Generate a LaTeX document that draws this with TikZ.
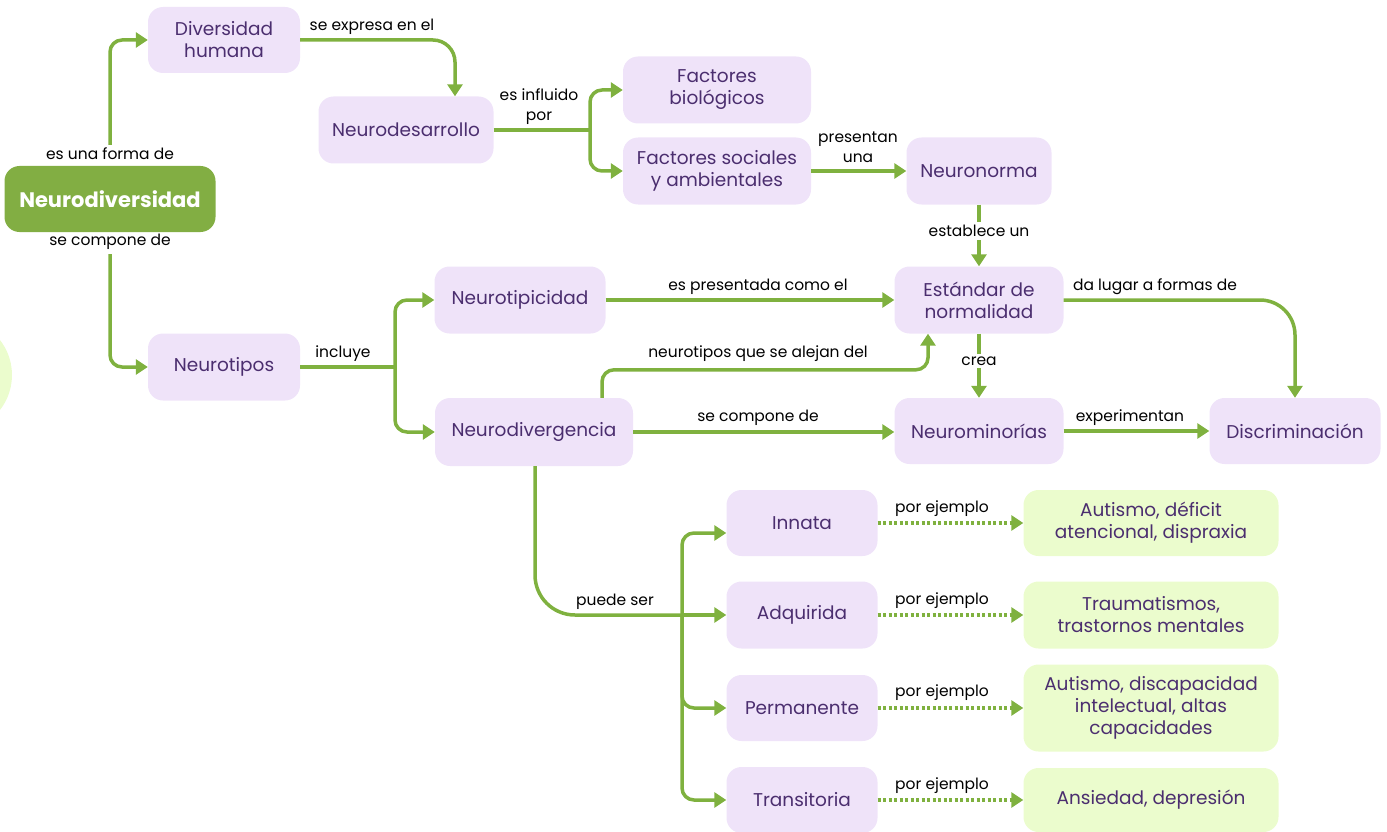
\documentclass[tikz,border=0pt]{standalone}
\usepackage{fontspec}
\setmainfont{Poppins}
\usetikzlibrary{arrows.meta}
\definecolor{cgreen}{HTML}{7FB13F}
\definecolor{cdgreen}{HTML}{82AE43}
\definecolor{clav}{HTML}{EFE3F9}
\definecolor{cpurple}{HTML}{4B2E6F}
\definecolor{clgreen}{HTML}{EBFCCD}
\tikzset{
  box/.style={rectangle, rounded corners=15pt, fill=clav, text=cpurple, font=\fontsize{18.5}{22}\selectfont, align=center, inner sep=0pt, minimum height=66pt},
  gbox/.style={box, fill=clgreen},
  lbl/.style={font=\fontsize{15.5}{20}\selectfont, text=black, align=center, inner sep=1pt},
  wlbl/.style={lbl, fill=white, inner sep=3pt},
  gline/.style={draw=cgreen, line width=3.5pt, rounded corners=12pt},
  conn/.style={gline, -{Triangle[length=12pt,width=15pt]}},
  dotconn/.style={draw=cgreen, line width=3.5pt, dash pattern=on 3pt off 2.5pt, -{Triangle[length=12pt,width=15pt]}}
}
\begin{document}
\begin{tikzpicture}[x=1pt,y=-1pt]
\useasboundingbox (0,0) rectangle (1387,832);
\begin{scope}
\clip (0,0) rectangle (1387,832);
\fill[clgreen] (-45,375) circle (57);
\end{scope}
% nodes
\node[box, fill=cdgreen, text=white, font=\fontsize{21}{24}\selectfont\bfseries, minimum width=211pt] (ndiv) at (110,199) {Neurodiversidad};
\node[box, minimum width=152pt] (dh) at (224,40) {Diversidad\\humana};
\node[box, minimum width=175pt, minimum height=67pt] (nd) at (406,130) {Neurodesarrollo};
\node[box, minimum width=188pt, minimum height=67pt] (fb) at (717,90) {Factores\\biológicos};
\node[box, minimum width=188pt, minimum height=67pt] (fs) at (717,171) {Factores sociales\\y ambientales};
\node[box, minimum width=145pt, minimum height=67pt] (nn) at (979,171) {Neuronorma};
\node[box, minimum width=169pt, minimum height=67pt] (est) at (979,300) {Estándar de\\normalidad};
\node[box, minimum width=171pt, minimum height=67pt] (ntp) at (520,300) {Neurotipicidad};
\node[box, minimum width=152pt, minimum height=67pt] (nt) at (224,367) {Neurotipos};
\node[box, minimum width=198pt, minimum height=68pt] (ndg) at (534,432) {Neurodivergencia};
\node[box, minimum width=169pt] (nm) at (979,431) {Neurominorías};
\node[box, minimum width=171pt] (disc) at (1295,431) {Discriminación};
\node[box, minimum width=151pt] (inn) at (802,523) {Innata};
\node[box, minimum width=151pt, minimum height=67pt] (adq) at (802,615) {Adquirida};
\node[box, minimum width=151pt] (perm) at (802,708) {Permanente};
\node[box, minimum width=151pt] (trans) at (802,800) {Transitoria};
\node[gbox, minimum width=255pt] (ex1) at (1151,523) {Autismo, déficit\\atencional, dispraxia};
\node[gbox, minimum width=255pt, minimum height=67pt] (ex2) at (1151,615) {Traumatismos,\\trastornos mentales};
\node[gbox, minimum width=255pt, minimum height=87pt] (ex3) at (1151,708) {Autismo, discapacidad\\intelectual, altas\\capacidades};
\node[gbox, minimum width=255pt, minimum height=64pt] (ex4) at (1151,800) {Ansiedad, depresión};
% junctions
\coordinate (j1) at (590,130);
\coordinate (j2) at (395,367);
\coordinate (j3) at (682,615);
% connectors
\draw[conn] ([yshift=21pt]ndiv.north) |- (dh.west);
\node[lbl] (l1) at (110,154) {es una forma de};
\draw[conn, rounded corners=22pt] (dh.east) -| ([xshift=49pt]nd.north);
\node[lbl] (l2) at (372,27) {se expresa en el};
\draw[gline] (nd.east) -- (j1);
\draw[conn] (j1) |- (fb.west);
\draw[conn] (j1) |- (fs.west);
\node[lbl] (l3) at (539,107) {es influido\\por};
\draw[conn] (fs.east) -- (nn.west);
\node[lbl] (l4) at (858,147) {presentan\\una};
\draw[conn] (nn.south) -- (est.north);
\node[wlbl] (l5) at (979,231) {establece un};
\draw[conn] ([yshift=-22pt]ndiv.south) |- (nt.west);
\node[lbl] (l6) at (110,242) {se compone de};
\draw[gline] (nt.east) -- (j2);
\draw[conn] (j2) |- (ntp.west);
\draw[conn] (j2) |- (ndg.west);
\node[lbl] (l7) at (343,354) {incluye};
\draw[conn] (ntp.east) -- (est.west);
\node[lbl] (l8) at (758,287) {es presentada como el};
\draw[conn] ([xshift=68pt]ndg.north) -- ++(0,-28) -| ([xshift=-51pt]est.south);
\node[lbl] (l9) at (758,354) {neurotipos que se alejan del};
\draw[conn] (ndg.east) -- (ndg.east -| nm.west);
\node[lbl] (l10) at (758,418) {se compone de};
\draw[conn] (est.south) -- (nm.north);
\node[wlbl] (l11) at (979,361) {crea};
\draw[conn, rounded corners=35pt] (est.east) -| (disc.north);
\node[lbl] (l12) at (1155,287) {da lugar a formas de};
\draw[conn] (nm.east) -- (disc.west);
\node[lbl] (l13) at (1130,418) {experimentan};
\draw[gline, rounded corners=40pt] ([xshift=1pt]ndg.south) |- (j3);
\draw[conn] (j3) -- (adq.west);
\draw[conn] (j3) |- ([yshift=-10pt]inn.west);
\draw[conn] (j3) |- (perm.west);
\draw[conn] (j3) |- (trans.west);
\node[lbl] (l14) at (615,602) {puede ser};
\draw[dotconn] (inn.east) -- (ex1.west);
\draw[dotconn] (adq.east) -- (ex2.west);
\draw[dotconn] (perm.east) -- (ex3.west);
\draw[dotconn] (trans.east) -- (ex4.west);
\node[lbl] (p1) at (942,509) {por ejemplo};
\node[lbl] (p2) at (942,601) {por ejemplo};
\node[lbl] (p3) at (942,693) {por ejemplo};
\node[lbl] (p4) at (942,786) {por ejemplo};
\end{tikzpicture}
\end{document}
